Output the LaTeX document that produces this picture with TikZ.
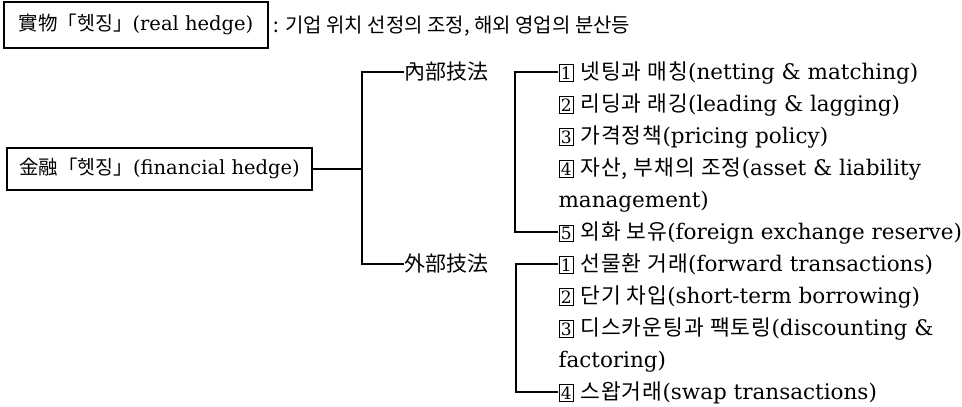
\documentclass[tikz,border=0pt]{standalone}
\usepackage{fontspec}
\setmainfont{DejaVu Serif}
\newfontfamily\krfont{Noto Sans CJK KR}
\newfontfamily\krwide[LetterSpace=5]{Noto Sans CJK KR}
\newcommand{\kr}[1]{{\krfont #1}}
\newcommand{\krw}[1]{{\krwide #1}}
\newcommand{\numbox}[1]{{\setlength{\fboxsep}{1.5pt}\setlength{\fboxrule}{0.9pt}\fbox{\fontsize{17}{17}\selectfont #1}}\hspace{6pt}}
\begin{document}
\begin{tikzpicture}[x=1pt,y=-1pt,
  line width=1.1pt,
  hedgebox/.style={draw, line width=1.1pt, inner sep=0pt, text height=15pt, text depth=4pt,
    font=\fontsize{19.5}{22}\selectfont},
  lbl/.style={anchor=west, inner sep=0pt, text height=16pt, text depth=1pt,
    font=\fontsize{21.5}{24}\selectfont},
  desc/.style={anchor=west, inner sep=0pt, text height=15pt, text depth=1pt,
    font=\fontsize{20}{22}\selectfont},
  branch/.style={anchor=west, inner sep=0pt, text height=16pt, text depth=1pt,
    font=\fontsize{21}{24}\selectfont}]
\useasboundingbox (0,0) rectangle (962,407);
\fill[white] (0,0) rectangle (962,407);

% top box and description
\node[hedgebox, minimum width=264pt, minimum height=46pt] (real) at (136,25) {\kr{實物「헷징」}(real hedge)};
\node[desc] (realdesc) at (273,25) {\kr{: 기업 위치 선정의 조정, 해외 영업의 분산등}};

% financial hedge box
\node[hedgebox, minimum width=305pt, minimum height=42pt] (fin) at (159.5,169) {\kr{金融「헷징」}(financial hedge)};

% level 2
\node[branch] (inner) at (404,72) {\kr{內部技法}};
\node[branch] (outer) at (404,264) {\kr{外部技法}};
\coordinate (ta) at (362,72);
\coordinate (tb) at (362,264);
\draw (inner.west) -- (ta) -- (tb) -- (outer.west);
\draw (fin.east) -- (fin.east -| ta);

% internal items
\node[lbl] (a1) at (558,72) {\numbox{1}\krw{넷팅과 매칭}(netting \& matching)};
\node[lbl] (a2) at (558,104) {\numbox{2}\krw{리딩과 래깅}(leading \& lagging)};
\node[lbl] (a3) at (558,136) {\numbox{3}\krw{가격정책}(pricing policy)};
\node[lbl] (a4) at (558,168) {\numbox{4}\krw{자산, 부채의 조정}(asset \& liability};
\node[lbl] (a4b) at (558,200) {management)};
\node[lbl] (a5) at (558,232) {\numbox{5}\krw{외화 보유}(foreign exchange reserve)};
\coordinate (ba) at (515,72);
\draw (a1.west) -- (ba) -- (ba |- a5.west) -- (a5.west);

% external items
\node[lbl] (c1) at (558,264) {\numbox{1}\krw{선물환 거래}(forward transactions)};
\node[lbl] (c2) at (558,296) {\numbox{2}\krw{단기 차입}(short-term borrowing)};
\node[lbl] (c3) at (558,328) {\numbox{3}\krw{디스카운팅과 팩토링}(discounting \&};
\node[lbl] (c3b) at (558,360) {factoring)};
\node[lbl] (c4) at (558,392) {\numbox{4}\krw{스왑거래}(swap transactions)};
\coordinate (bc) at (516,264);
\draw (c1.west) -- (bc) -- (bc |- c4.west) -- (c4.west);
\end{tikzpicture}
\end{document}
